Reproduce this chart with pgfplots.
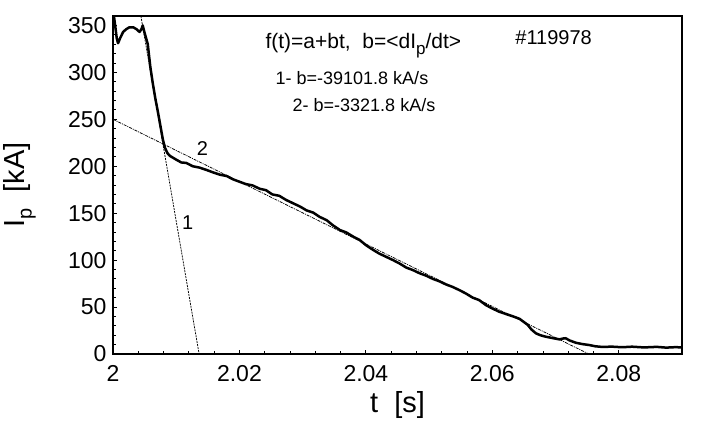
\documentclass[border=0pt]{standalone}
\usepackage{fontspec}
\setmainfont{Liberation Sans}
\usepackage{pgfplots}
\pgfplotsset{compat=1.18}
\begin{document}
\begin{tikzpicture}
\begin{axis}[
  scale only axis,
  width=569pt, height=338pt,
  xmin=2, xmax=2.09, ymin=0, ymax=360,
  xtick={2,2.02,2.04,2.06,2.08},
  xticklabels={2,2.02,2.04,2.06,2.08},
  ytick={0,50,100,150,200,250,300,350},
  minor x tick num=4, minor y tick num=4,
  tick pos=left, tick align=inside,
  major tick length=4pt, minor tick length=3pt,
  axis line style={line width=1.1pt},
  every tick/.style={black, line width=0.8pt},
  /pgf/number format/assume math mode=true,
  ticklabel style={font=\fontsize{23}{27}\selectfont},
  xticklabel style={yshift=-8pt},
  yticklabel style={xshift=-3pt},
  xlabel={t\ \ [s]},
  ylabel={I\raisebox{-0.25em}{\fontsize{20}{22}\selectfont p}\ \ [kA]},
  xlabel style={at={(axis description cs:0.5,-0.152)}, anchor=center, font=\fontsize{29}{33}\selectfont},
  ylabel style={at={(axis description cs:-0.164,0.5)}, anchor=center, rotate=0, font=\fontsize{29}{33}\selectfont},
  clip=true,
]
% fitted lines
\addplot[black, line width=0.75pt, dash pattern=on 2pt off 1pt] coordinates {(2.00441,360) (2.01362,0)};
\addplot[black, line width=0.75pt, dash pattern=on 3pt off 1pt on 1pt off 1pt] coordinates {(2.0,250) (2.07526,0)};
% measured current
\addplot[black, line width=2.5pt, line join=round] coordinates {
(2.0000,368) (2.0003,352) (2.0006,336) (2.0008,331) (2.0011,336) (2.0016,343)
(2.0021,346) (2.0026,348) (2.0032,348) (2.0037,346) (2.0042,343) (2.0045,346)
(2.0047,350) (2.0050,342) (2.0055,330) (2.0059,306) (2.0063,288) (2.0067,272)
(2.0071,258) (2.0075,243) (2.0079,228) (2.0082,220) (2.0086,214) (2.0090,211)
(2.0095,209) (2.0100,207) (2.0108,204) (2.0116,203.5) (2.0126,200) (2.0137,198.5)
(2.0148,196) (2.0158,193.5) (2.0169,191) (2.0180,189.5) (2.0190,186) (2.0200,183.5)
(2.0210,181) (2.0221,179.5) (2.0232,176) (2.0242,174.5) (2.0252,170) (2.0263,168.5)
(2.0274,164) (2.0285,160.5) (2.0296,157) (2.0306,153) (2.0317,150.5) (2.0327,146)
(2.0338,142.5) (2.0348,137) (2.0359,132) (2.0369,129.5) (2.0380,125) (2.0390,121.5)
(2.0400,116) (2.0410,111.5) (2.0421,107) (2.0432,103.5) (2.0443,100) (2.0453,96.5)
(2.0464,92) (2.0474,89.5) (2.0485,86) (2.0495,83.5) (2.0506,80) (2.0516,77.5)
(2.0527,74) (2.0537,71.5) (2.0548,68) (2.0558,64.5) (2.0569,60) (2.0579,57.5)
(2.0590,52) (2.0600,48.5) (2.0611,45) (2.0622,42.5) (2.0633,40) (2.0643,37.5)
(2.0650,34) (2.0656,31) (2.0662,26) (2.0669,22) (2.0676,20) (2.0684,18.5)
(2.0695,17) (2.0706,15.6) (2.0712,16.5) (2.0716,16.8) (2.0722,14.5) (2.0732,12)
(2.0743,10.5) (2.0753,9.6) (2.0763,8.2) (2.0773,7.6) (2.0790,7.8) (2.0805,7.2)
(2.0821,7.8) (2.0840,7.0) (2.0860,7.6) (2.0875,6.8) (2.0890,7.3) (2.0900,7.0)
};
\node[font=\fontsize{21}{24}\selectfont] at (axis cs:2.0396,328.7) {f(t)=a+bt,\ \ b=<dI\raisebox{-0.3em}{\fontsize{17}{19}\selectfont p}/dt>};
\node[font=\fontsize{18}{22}\selectfont] at (axis cs:2.0378,293.6) {1- b=-39101.8 kA/s};
\node[font=\fontsize{18}{22}\selectfont] at (axis cs:2.0397,265) {2- b=-3321.8 kA/s};
\node[font=\fontsize{20}{22}\selectfont] at (axis cs:2.0697,337) {\#119978};
\node[font=\fontsize{20}{24}\selectfont] at (axis cs:2.01416,219) {2};
\node[font=\fontsize{20}{24}\selectfont] at (axis cs:2.0118,140) {1};
\end{axis}
\path[use as bounding box] (-113pt,-75pt) rectangle (599pt,354pt);
\end{tikzpicture}
\end{document}
